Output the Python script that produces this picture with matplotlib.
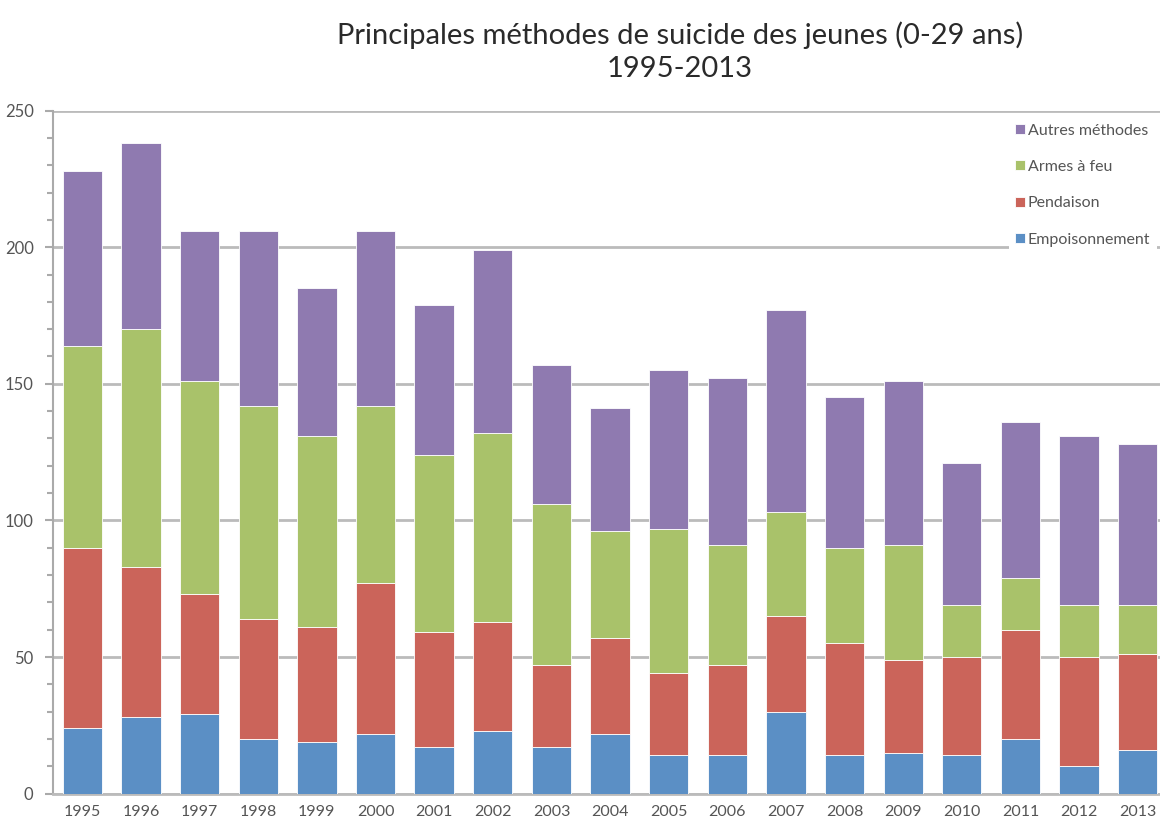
import matplotlib
matplotlib.use("Agg")
import matplotlib.pyplot as plt
import numpy as np
from matplotlib.ticker import MultipleLocator

plt.rcParams['font.family'] = ['Lato', 'DejaVu Sans']

years = ['1995', '1996', '1997', '1998', '1999', '2000', '2001', '2002', '2003', '2004',
         '2005', '2006', '2007', '2008', '2009', '2010', '2011', '2012', '2013']
empoisonnement = [24, 28, 29, 20, 19, 22, 17, 23, 17, 22, 14, 14, 30, 14, 15, 14, 20, 10, 16]
pendaison = [66, 55, 44, 44, 42, 55, 42, 40, 30, 35, 30, 33, 35, 41, 34, 36, 40, 40, 35]
armes = [74, 87, 78, 78, 70, 65, 65, 69, 59, 39, 53, 44, 38, 35, 42, 19, 19, 19, 18]
autres = [64, 68, 55, 64, 54, 64, 55, 67, 51, 45, 58, 61, 74, 55, 60, 52, 57, 62, 59]

series = [('Empoisonnement', empoisonnement, '#5B8FC5'),
          ('Pendaison', pendaison, '#CB645A'),
          ('Armes à feu', armes, '#A9C26A'),
          ('Autres méthodes', autres, '#8F7AB0')]

fig = plt.figure(figsize=(11.6, 8.24), dpi=100)
ax = fig.add_axes([0.0457, 0.0368, 0.9543, 0.829])

x = np.arange(len(years))
bottom = np.zeros(len(years))
for name, vals, col in series:
    ax.bar(x, vals, 0.67, bottom=bottom, color=col, label=name,
           edgecolor='white', linewidth=0.6, zorder=3)
    bottom += np.array(vals)

ax.set_xlim(-0.5, 18.38)
ax.set_ylim(0, 250)
ax.yaxis.set_major_locator(MultipleLocator(50))
ax.yaxis.set_minor_locator(MultipleLocator(10))
ax.grid(axis='y', which='major', color='#BBBBBB', linewidth=2, zorder=0)
ax.set_xticks(x)
ax.set_xticklabels(years)
ax.tick_params(axis='x', length=0, pad=8, labelsize=11.5, labelcolor='#555555')
ax.tick_params(axis='y', which='major', length=6, width=1.5, color='#AAAAAA',
               labelsize=12, labelcolor='#555555', pad=8)
ax.tick_params(axis='y', which='minor', length=4, width=1.5, color='#AAAAAA')
for s in ['top', 'right']:
    ax.spines[s].set_visible(False)
ax.spines['left'].set_color('#AAAAAA')
ax.spines['left'].set_linewidth(1.5)
ax.spines['bottom'].set_color('#BBBBBB')
ax.spines['bottom'].set_linewidth(2)

handles, labels = ax.get_legend_handles_labels()
leg = ax.legend(handles[::-1], labels[::-1], loc='upper right', frameon=True,
                fontsize=11.5, handlelength=0.6, handleheight=0.6, handletextpad=0.2,
                labelspacing=1.4, borderaxespad=0.2, bbox_to_anchor=(1.0, 0.995))
leg.get_frame().set_edgecolor('none')
leg.get_frame().set_facecolor('white')
leg.get_frame().set_alpha(1)
for t in leg.get_texts():
    t.set_color('#555555')

fig.text(0.586, 0.937, 'Principales méthodes de suicide des jeunes (0-29 ans)\n1995-2013',
         ha='center', va='center', fontsize=21, color='#2a2a2a', linespacing=1.35)

fig.savefig('out.png', dpi=100)
